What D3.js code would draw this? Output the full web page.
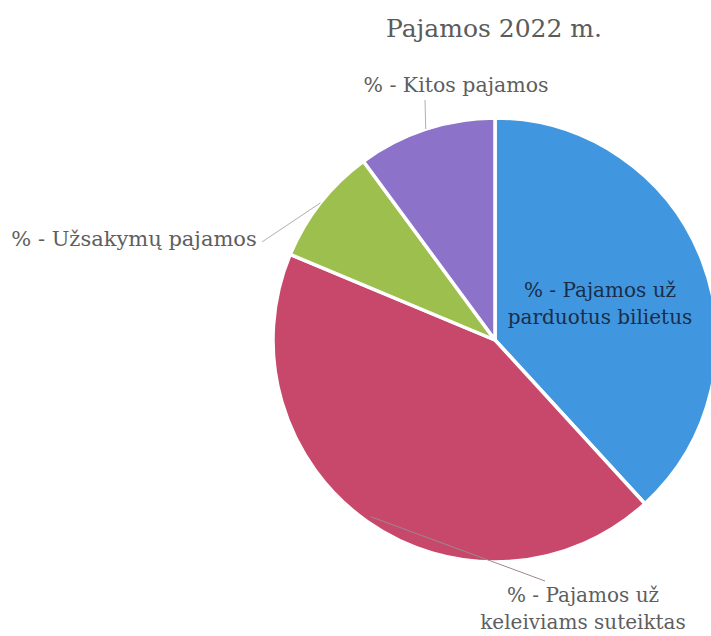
<!DOCTYPE html>
<html>
<head>
<meta charset="utf-8">
<script src="https://cdn.jsdelivr.net/npm/d3@7"></script>
<style>
  html, body { margin: 0; padding: 0; background: #ffffff; overflow: hidden; }
  svg { display: block; }
</style>
</head>
<body>
<svg id="chart" width="711" height="636"></svg>
<script>
// Data
const title = "Pajamos 2022 m.";
const categories = [
  ["% - Pajamos už", "parduotus bilietus"],
  ["% - Pajamos už", "keleiviams suteiktas"],
  ["% - Užsakymų pajamos"],
  ["% - Kitos pajamos"]
];
const values = [38.2, 43.1, 8.6, 10.1];
const colors = ["#4197df", "#c8486b", "#9dbf4e", "#8c73c9"];

// Layout
const FONT = "DejaVu Serif, Liberation Serif, serif";
const W = 711, H = 636;
const cx = 495, cy = 340, R = 222;
const labelPos = [
  {x: 600, y: 297, size: 20, inside: true, lead: null},
  {x: 583, y: 602, size: 20, inside: false, lead: [545, 581]},
  {x: 134, y: 246, size: 21, inside: false, lead: [262, 242]},
  {x: 456, y: 92, size: 20.5, inside: false, lead: [425, 100]}
];

const svg = d3.select("#chart");

svg.append("text")
  .attr("x", 494).attr("y", 37)
  .attr("text-anchor", "middle")
  .attr("font-family", FONT)
  .attr("font-size", 25)
  .attr("fill", "#5b5b5b")
  .text(title);

const pie = d3.pie().sort(null).value(d => d).startAngle(0).endAngle(2 * Math.PI);
const arcs = pie(values);
const arcGen = d3.arc().innerRadius(0).outerRadius(R);

const g = svg.append("g").attr("transform", `translate(${cx},${cy})`);

g.selectAll("path.slice")
  .data(arcs)
  .join("path")
  .attr("class", "slice")
  .attr("d", arcGen)
  .attr("fill", (d, i) => colors[i])
  .attr("stroke", "#ffffff")
  .attr("stroke-width", 3.5)
  .attr("stroke-linejoin", "round");

// Leader lines
arcs.forEach((a, i) => {
  const lp = labelPos[i];
  if (!lp.lead) return;
  const mid = (a.startAngle + a.endAngle) / 2;
  const rr = i === 1 ? R - 6 : R;
  const x0 = cx + rr * Math.sin(mid);
  const y0 = cy - rr * Math.cos(mid);
  svg.append("line")
    .attr("x1", x0).attr("y1", y0)
    .attr("x2", lp.lead[0]).attr("y2", lp.lead[1])
    .attr("stroke", i === 1 ? "#9a8a90" : "#b0b0b0")
    .attr("stroke-width", 1);
});

// Labels
categories.forEach((lines, i) => {
  const lp = labelPos[i];
  const t = svg.append("text")
    .attr("text-anchor", "middle")
    .attr("font-family", FONT)
    .attr("font-size", lp.size)
    .attr("fill", lp.inside ? "#1a2d48" : "#5e5e5e");
  lines.forEach((ln, k) => {
    t.append("tspan")
      .attr("x", lp.x)
      .attr("y", lp.y + k * 27)
      .text(ln);
  });
});
</script>
</body>
</html>
